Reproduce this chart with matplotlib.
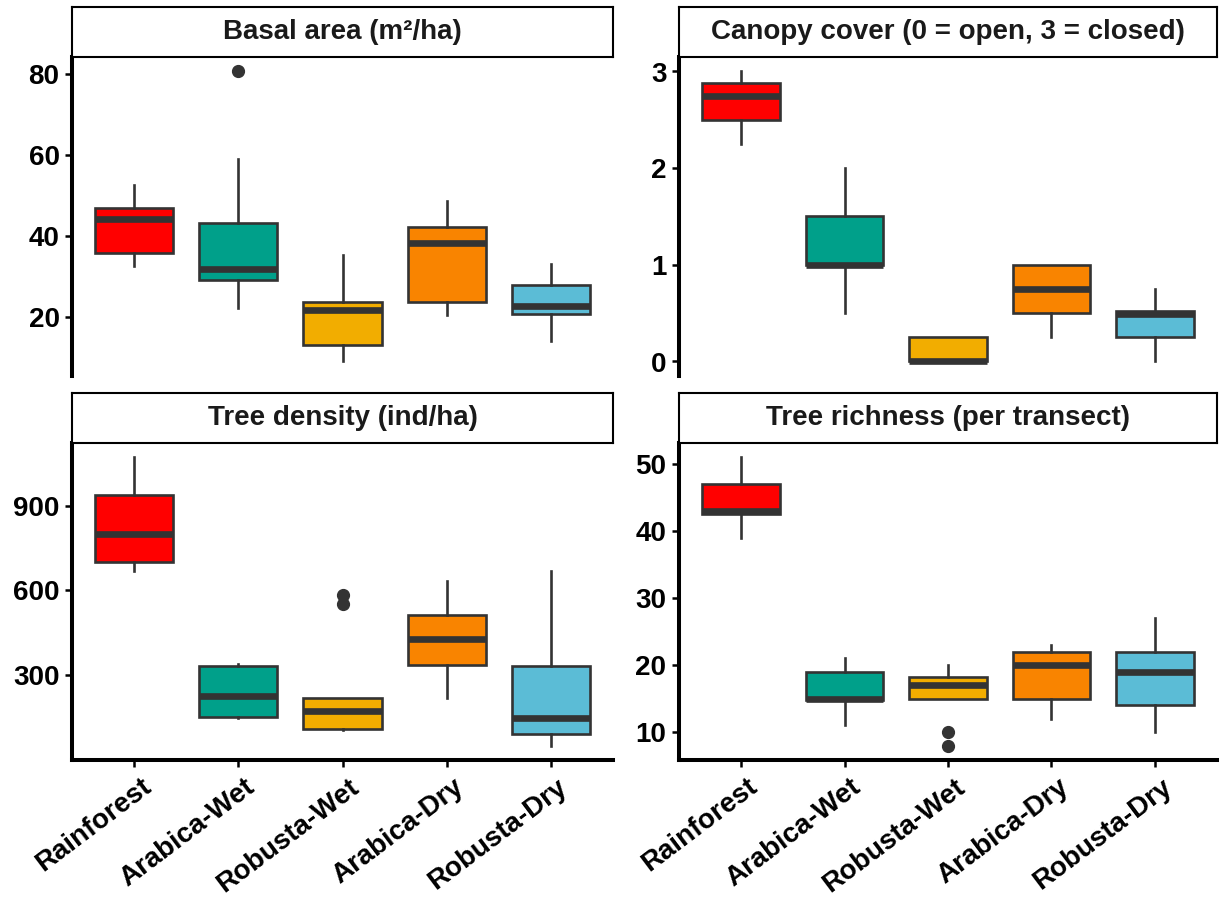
import matplotlib
matplotlib.use("Agg")
import matplotlib.pyplot as plt
from matplotlib.transforms import ScaledTranslation

plt.rcParams['font.family'] = ['Liberation Sans', 'DejaVu Sans']
plt.rcParams['font.weight'] = 'bold'

groups = ["Rainforest", "Arabica-Wet", "Robusta-Wet", "Arabica-Dry", "Robusta-Dry"]
colors = ["#FF0000", "#00A08A", "#F2AD00", "#F98400", "#5BBCD6"]

# Basal area (m²/ha): whisker low, Q1, median, Q3, whisker high, outliers
basal_low = [32.5, 22.3, 9.0, 20.6, 14.0]
basal_q1 = [35.8, 29.0, 13.0, 23.7, 20.8]
basal_med = [44.3, 31.8, 21.8, 38.2, 22.8]
basal_q3 = [47.0, 43.3, 23.7, 42.3, 28.0]
basal_high = [52.5, 59.0, 35.2, 48.7, 33.0]
basal_out = [[], [80.6], [], [], []]

# Canopy cover
canopy_low = [2.25, 0.5, 0.0, 0.25, 0.0]
canopy_q1 = [2.5, 1.0, 0.0, 0.5, 0.25]
canopy_med = [2.75, 1.0, 0.0, 0.75, 0.49]
canopy_q3 = [2.88, 1.5, 0.25, 1.0, 0.52]
canopy_high = [3.0, 2.0, 0.25, 1.0, 0.75]
canopy_out = [[], [], [], [], []]

# Tree density (ind/ha)
dens_low = [667, 148, 105, 217, 50]
dens_q1 = [701, 150, 108, 336, 92]
dens_med = [801, 224, 173, 428, 149]
dens_q3 = [938, 331, 220, 511, 333]
dens_high = [1071, 339, 220, 632, 667]
dens_out = [[], [], [550, 582], [], []]

# Tree richness (per transect)
rich_low = [39, 11, 15, 12, 10]
rich_q1 = [42.5, 14.8, 15, 15, 14]
rich_med = [43, 15, 17, 20, 19]
rich_q3 = [47, 19, 18.2, 22, 22]
rich_high = [51, 21, 20, 23, 27]
rich_out = [[], [], [8, 10], [], []]

panels = [
    ("Basal area (m²/ha)", basal_low, basal_q1, basal_med, basal_q3, basal_high, basal_out, [20, 40, 60, 80]),
    ("Canopy cover (0 = open, 3 = closed)", canopy_low, canopy_q1, canopy_med, canopy_q3, canopy_high, canopy_out, [0, 1, 2, 3]),
    ("Tree density (ind/ha)", dens_low, dens_q1, dens_med, dens_q3, dens_high, dens_out, [300, 600, 900]),
    ("Tree richness (per transect)", rich_low, rich_q1, rich_med, rich_q3, rich_high, rich_out, [10, 20, 30, 40, 50]),
]

W, H = 1225, 905
fig = plt.figure(figsize=(W / 100, H / 100), dpi=100)

# panel boxes in pixels: left, right, top, bottom
boxes = [(72, 613, 57, 376), (679, 1217, 57, 376),
         (72, 613, 443, 760), (679, 1217, 443, 760)]
strip_h = 50
grey20 = "#333333"

for i, (title, lo, q1, med, q3, hi, out, yt) in enumerate(panels):
    l, r, t, b = boxes[i]
    ax = fig.add_axes([l / W, 1 - b / H, (r - l) / W, (b - t) / H])
    stats = []
    for k in range(len(groups)):
        stats.append(dict(whislo=lo[k], q1=q1[k], med=med[k], q3=q3[k], whishi=hi[k], fliers=out[k]))
    bp = ax.bxp(stats, positions=range(1, 6), widths=0.75, patch_artist=True, showcaps=False,
                boxprops=dict(edgecolor=grey20, linewidth=1.9),
                medianprops=dict(color=grey20, linewidth=4.8, solid_capstyle='butt'),
                whiskerprops=dict(color=grey20, linewidth=1.9),
                flierprops=dict(marker='o', markerfacecolor=grey20, markeredgecolor=grey20, markersize=8.5))
    for patch, c in zip(bp['boxes'], colors):
        patch.set_facecolor(c)

    allv = lo + hi + [v for o in out for v in o]
    vmin, vmax = min(allv), max(allv)
    pad = 0.05 * (vmax - vmin)
    ax.set_ylim(vmin - pad, vmax + pad)
    ax.set_xlim(0.4, 5.6)
    ax.set_yticks(yt)

    for s in ['top', 'right']:
        ax.spines[s].set_visible(False)
    ax.spines['left'].set_linewidth(2.9)
    ax.spines['left'].set_capstyle('projecting')
    ax.tick_params(axis='y', length=5, width=1.8, labelsize=20, pad=4, colors='black')

    if i < 2:
        ax.spines['bottom'].set_visible(False)
        ax.set_xticks([])
    else:
        ax.spines['bottom'].set_linewidth(2.9)
        ax.spines['bottom'].set_capstyle('projecting')
        ax.set_xticks(range(1, 6))
        ax.set_xticklabels(groups, rotation=37, ha='right', va='top', rotation_mode='anchor')
        ax.tick_params(axis='x', length=5, width=1.8, labelsize=20, pad=5)
        for lab in ax.get_xticklabels():
            lab.set_transform(lab.get_transform() + ScaledTranslation(0.06, 0, fig.dpi_scale_trans))

    sax = fig.add_axes([l / W, 1 - t / H, (r - l) / W, strip_h / H])
    sax.set_xticks([])
    sax.set_yticks([])
    for s in sax.spines.values():
        s.set_linewidth(1.5)
        s.set_color('black')
    sax.text(0.5, 0.5, title, ha='center', va='center', fontsize=20, fontweight='bold',
             color='#1A1A1A', transform=sax.transAxes)

fig.savefig("out.png", dpi=100)
